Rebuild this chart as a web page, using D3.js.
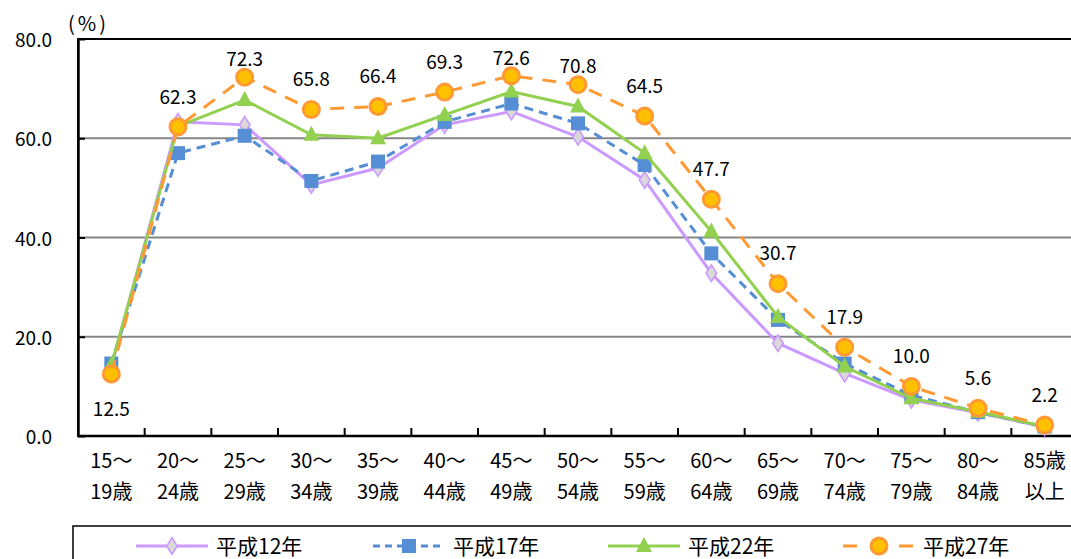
<!DOCTYPE html>
<html>
<head>
<meta charset="utf-8">
<script src="https://cdn.jsdelivr.net/npm/d3@7"></script>
<style>
  body { margin: 0; background: #fff; }
  svg { display: block; font-family: "Noto Sans CJK JP", sans-serif; }
</style>
</head>
<body>
<div id="chart"></div>
<script>
// categories (two-line x labels)
const categories = ["15-19", "20-24", "25-29", "30-34", "35-39", "40-44", "45-49", "50-54",
    "55-59", "60-64", "65-69", "70-74", "75-79", "80-84", "85+"];
const labelTop = ["15～", "20～", "25～", "30～", "35～", "40～", "45～", "50～",
    "55～", "60～", "65～", "70～", "75～", "80～", "85歳"];
const labelBottom = ["19歳", "24歳", "29歳", "34歳", "39歳", "44歳", "49歳", "54歳",
    "59歳", "64歳", "69歳", "74歳", "79歳", "84歳", "以上"];

// series values (%)
const h12 = [14.0, 63.3, 62.7, 50.6, 54.0, 62.7, 65.4, 60.3, 51.6, 32.8, 18.7, 12.6, 7.3, 4.7, 1.8];
const h17 = [14.6, 57.0, 60.5, 51.4, 55.3, 63.3, 67.0, 63.0, 54.6, 36.8, 23.4, 14.6, 8.2, 4.8, 1.9];
const h22 = [14.3, 62.4, 67.7, 60.7, 60.0, 64.7, 69.4, 66.4, 57.0, 41.2, 24.0, 14.0, 7.6, 4.9, 1.9];
const h27 = [12.5, 62.3, 72.3, 65.8, 66.4, 69.3, 72.6, 70.8, 64.5, 47.7, 30.7, 17.9, 10.0, 5.6, 2.2];

const seriesNames = ["平成12年", "平成17年", "平成22年", "平成27年"];
const yTicks = [0, 20, 40, 60, 80];

const W = 1071, H = 559;
const plot = {left: 78, top: 39, right: 1078, bottom: 436};

const svg = d3.select("#chart").append("svg")
    .attr("width", W)
    .attr("height", H);

const x = d3.scaleBand()
    .domain(categories)
    .range([plot.left, plot.right])
    .padding(0);
const cx = d => x(d) + x.bandwidth() / 2;

const y = d3.scaleLinear()
    .domain([0, 80])
    .range([plot.bottom, plot.top]);

// gridlines
svg.selectAll(".grid")
    .data(yTicks.filter(d => d > 0 && d < 80))
    .join("line")
    .attr("x1", plot.left)
    .attr("x2", plot.right)
    .attr("y1", d => y(d))
    .attr("y2", d => y(d))
    .attr("stroke", "#868686")
    .attr("stroke-width", 2);

// plot border (top + right)
svg.append("rect")
    .attr("x", plot.left)
    .attr("y", plot.top)
    .attr("width", plot.right - plot.left)
    .attr("height", plot.bottom - plot.top)
    .attr("fill", "none")
    .attr("stroke", "#000")
    .attr("stroke-width", 2);

// y axis
const yAxis = svg.append("g")
    .attr("transform", `translate(${plot.left},0)`)
    .call(d3.axisLeft(y).tickValues(yTicks).tickFormat(d3.format(".1f"))
        .tickSizeInner(-7).tickSizeOuter(0).tickPadding(26));
yAxis.select(".domain").attr("stroke", "#000").attr("stroke-width", 2.5);
yAxis.selectAll(".tick line").attr("stroke", "#000").attr("stroke-width", 2);
yAxis.selectAll(".tick text")
    .attr("fill", "#000")
    .attr("dy", "0.4em")
    .style("font-size", "19px")
    .style("font-family", "'Noto Sans CJK JP', sans-serif");

// x axis
const xAxis = svg.append("g")
    .attr("transform", `translate(0,${plot.bottom})`);
xAxis.append("line")
    .attr("x1", plot.left).attr("x2", plot.right)
    .attr("y1", 0).attr("y2", 0)
    .attr("stroke", "#000").attr("stroke-width", 2.5);
xAxis.selectAll(".xtick")
    .data(categories.slice(1))
    .join("line")
    .attr("x1", d => x(d)).attr("x2", d => x(d))
    .attr("y1", 0).attr("y2", -8)
    .attr("stroke", "#000").attr("stroke-width", 2);
xAxis.selectAll(".xl1")
    .data(categories)
    .join("text")
    .attr("x", d => cx(d))
    .attr("y", 32)
    .attr("text-anchor", "middle")
    .style("font-size", "20px")
    .text((d, i) => labelTop[i]);
xAxis.selectAll(".xl2")
    .data(categories)
    .join("text")
    .attr("x", d => cx(d))
    .attr("y", 63)
    .attr("text-anchor", "middle")
    .style("font-size", "20px")
    .text((d, i) => labelBottom[i]);

// unit label
svg.append("text")
    .attr("x", 68)
    .attr("y", 31)
    .style("font-size", "20px")
    .style("letter-spacing", "3px")
    .text("(%)");

// series styles
const styles = [
    {data: h12, color: "#CC99FF", dash: null, marker: "diamond"},
    {data: h17, color: "#558ED5", dash: "9,6", marker: "square"},
    {data: h22, color: "#92D050", dash: null, marker: "triangle"},
    {data: h27, color: "#FF9933", dash: "14,10", marker: "circle"}
];

const line = d3.line()
    .x((d, i) => cx(categories[i]))
    .y(d => y(d));

function drawMarker(g, type, color) {
    if (type === "diamond") {
        g.append("path")
            .attr("d", d3.symbol(d3.symbolDiamond, 80)())
            .attr("transform", "scale(1.1,1)")
            .attr("fill", "#D9D9D9")
            .attr("stroke", color)
            .attr("stroke-width", 1.5);
    } else if (type === "square") {
        g.append("rect")
            .attr("x", -7).attr("y", -7)
            .attr("width", 14).attr("height", 14)
            .attr("fill", color);
    } else if (type === "triangle") {
        g.append("path")
            .attr("d", "M0,-9L8,6L-8,6Z")
            .attr("fill", color);
    } else {
        g.append("circle")
            .attr("r", 8)
            .attr("fill", "#FFC000")
            .attr("stroke", color)
            .attr("stroke-width", 3);
    }
}

styles.forEach(s => {
    svg.append("path")
        .datum(s.data)
        .attr("d", line)
        .attr("fill", "none")
        .attr("stroke", s.color)
        .attr("stroke-width", 3)
        .attr("stroke-dasharray", s.dash);
    s.data.forEach((v, i) => {
        const g = svg.append("g")
            .attr("transform", `translate(${cx(categories[i])},${y(v)})`);
        drawMarker(g, s.marker, s.color);
    });
});

// data labels for 平成27年
h27.forEach((v, i) => {
    const py = y(v);
    let ly;
    if (i === 0) ly = py + 35;
    else ly = (py - 30 < 57) ? py - 18 : py - 30;
    svg.append("text")
        .attr("x", cx(categories[i]))
        .attr("y", ly)
        .attr("dy", "0.36em")
        .attr("text-anchor", "middle")
        .style("font-size", "19px")
        .text(d3.format(".1f")(v));
});

// legend
const legend = svg.append("g");
legend.append("rect")
    .attr("x", 73).attr("y", 526)
    .attr("width", 1010).attr("height", 60)
    .attr("fill", "#fff")
    .attr("stroke", "#000")
    .attr("stroke-width", 1.5);
const legendX = [136, 373, 608, 843];
const legendDash = [null, "7,5", null, "14,42"];
styles.forEach((s, i) => {
    const g = legend.append("g").attr("transform", `translate(${legendX[i]},546)`);
    g.append("line")
        .attr("x1", 0).attr("x2", 72)
        .attr("stroke", s.color)
        .attr("stroke-width", 3)
        .attr("stroke-dasharray", legendDash[i]);
    const m = g.append("g").attr("transform", "translate(36,0)");
    drawMarker(m, s.marker, s.color);
    g.append("text")
        .attr("x", 80)
        .attr("y", 0)
        .attr("dy", "0.36em")
        .style("font-size", "21px")
        .text(seriesNames[i]);
});
</script>
</body>
</html>
